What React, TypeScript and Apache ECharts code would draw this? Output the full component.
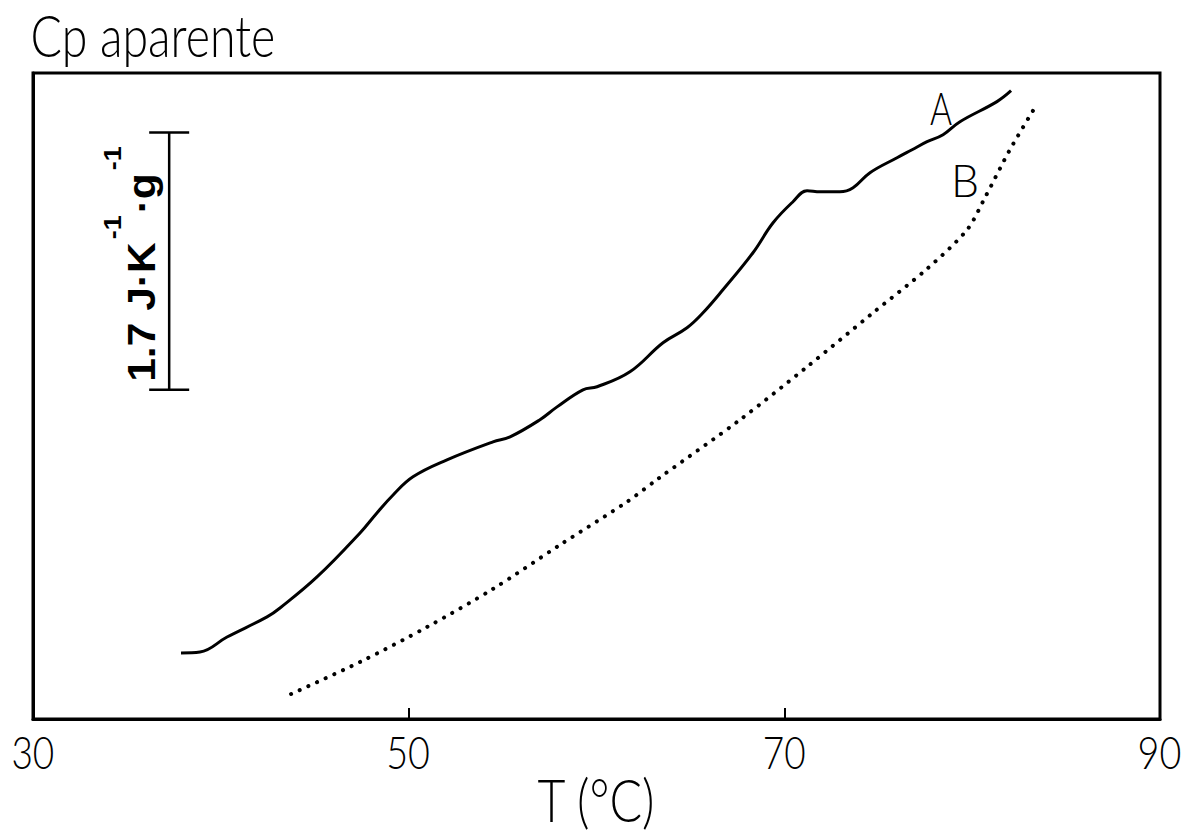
import React, { useEffect, useRef } from "react";
import * as echarts from "echarts";

// x-axis ticks (°C)
const X_TICKS = [30, 50, 70, 90];
const X_TITLE = "T (°C)";
const CHART_TITLE = "Cp aparente";

// Curve A (solid) — temperature (°C) and apparent Cp (J·K⁻¹·g⁻¹, arbitrary offset)
const T_A = [37.88, 38.89, 40.33, 42.46, 43.15, 45.12, 47.41, 48.31, 49.17, 50.23, 52.04, 54.49, 55.4, 56.99, 57.9, 59.28, 60.03, 61.78, 63.54, 64.82, 65.67, 66.73, 68.33, 69.4, 70.46, 71.21, 71.9, 72.96, 73.66, 74.56, 76.0, 76.8, 77.6, 78.45, 79.35, 81.32, 82.07];
const CP_A = [0.437, 0.443, 0.542, 0.675, 0.734, 0.939, 1.23, 1.362, 1.481, 1.601, 1.713, 1.832, 1.865, 1.978, 2.063, 2.176, 2.196, 2.295, 2.487, 2.586, 2.685, 2.837, 3.082, 3.28, 3.419, 3.492, 3.485, 3.485, 3.512, 3.611, 3.71, 3.763, 3.816, 3.862, 3.948, 4.081, 4.153];

// Curve B (dotted)
const T_B = [43.74, 47.41, 50.98, 54.49, 58.06, 61.62, 63.27, 67.64, 71.21, 74.72, 77.6, 79.73, 80.68, 82.01, 83.4];
const CP_B = [0.165, 0.377, 0.608, 0.86, 1.151, 1.435, 1.587, 1.978, 2.328, 2.685, 2.976, 3.234, 3.446, 3.763, 4.054];

// Scale bar: 1.7 J·K⁻¹·g⁻¹
const SCALE_T = 37.25;
const SCALE_BASE = 2.176;
const SCALE_SPAN = 1.7;
const SCALE_PARTS = ["1.7 J·K", "-1", "·g", "-1"];

const Y_MAX = 4.27;

const PLOT_FONT = "Lato";
const PLOT_WEIGHT = "300";
const SB_FONT = "'Liberation Sans', Arial, sans-serif";

let _ctx: CanvasRenderingContext2D | null = null;
function measure(text: string, size: number, family: string, weight: string) {
  if (!_ctx) _ctx = document.createElement("canvas").getContext("2d");
  const ctx = _ctx!;
  ctx.font = `${weight} ${size}px ${family}`;
  ctx.textAlign = "left";
  ctx.textBaseline = "alphabetic";
  return ctx.measureText(text);
}

function capRatio(family: string, weight: string) {
  return measure("H", 100, family, weight).actualBoundingBoxAscent / 100;
}

// Text whose ink box is placed from inkLeft to inkRight, cap top to baseline
function fitText(id: string, text: string, inkLeft: number, inkRight: number, capTop: number, baseline: number) {
  const size = (baseline - capTop) / capRatio(PLOT_FONT, PLOT_WEIGHT);
  const m = measure(text, size, PLOT_FONT, PLOT_WEIGHT);
  const inkW = m.actualBoundingBoxLeft + m.actualBoundingBoxRight;
  const sx = (inkRight - inkLeft) / inkW;
  const mid = (m.fontBoundingBoxAscent - m.fontBoundingBoxDescent) / 2;
  return {
    id,
    type: "text",
    x: inkLeft + m.actualBoundingBoxLeft * sx,
    y: baseline - mid,
    scaleX: sx,
    silent: true,
    style: {
      text,
      fontFamily: PLOT_FONT,
      fontWeight: PLOT_WEIGHT,
      fontSize: size,
      fill: "#000",
      align: "left",
      verticalAlign: "middle",
    },
  };
}

function scaleLabel(baseX: number, startY: number) {
  const sx = 1.12;
  const children: any[] = [];
  let pos = startY;
  SCALE_PARTS.forEach((t, i) => {
    const sup = i % 2 === 1;
    const size = sup ? 24 : 38;
    pos -= sup ? 3 : i === 0 ? 0 : 2;
    const m = measure(t, size, SB_FONT, "bold");
    const baseline = sup ? baseX - 34 : baseX;
    const mid = (m.fontBoundingBoxAscent - m.fontBoundingBoxDescent) / 2;
    children.push({
      type: "text",
      x: -pos,
      y: baseline - mid,
      scaleX: sx,
      style: {
        text: t,
        fontFamily: SB_FONT,
        fontWeight: "bold",
        fontSize: size,
        fill: "#000",
        align: "left",
        verticalAlign: "middle",
      },
    });
    pos -= m.width * sx;
  });
  return { type: "group", x: 0, y: 0, rotation: Math.PI / 2, children };
}

export default function App() {
  const ref = useRef<HTMLDivElement>(null);

  useEffect(() => {
    if (!ref.current) return;
    const chart = echarts.init(ref.current, null, { renderer: "svg" });
    const dataA = T_A.map((t, i) => [t, CP_A[i]]);
    const dataB = T_B.map((t, i) => [t, CP_B[i]]);

    chart.setOption({
      animation: false,
      backgroundColor: "#ffffff",
      grid: {
        left: 33,
        right: 29,
        top: 73,
        bottom: 117,
        show: true,
        borderColor: "#000",
        borderWidth: 3,
        containLabel: false,
      },
      xAxis: {
        type: "value",
        min: X_TICKS[0],
        max: X_TICKS[X_TICKS.length - 1],
        interval: X_TICKS[1] - X_TICKS[0],
        axisLine: { show: true, lineStyle: { color: "#000", width: 3 } },
        axisTick: { show: true, inside: true, length: 11, lineStyle: { color: "#000", width: 2 } },
        axisLabel: { show: false },
        splitLine: { show: false },
      },
      yAxis: {
        type: "value",
        min: 0,
        max: Y_MAX,
        axisLine: { show: true, lineStyle: { color: "#000", width: 3 } },
        axisTick: { show: false },
        axisLabel: { show: false },
        splitLine: { show: false },
      },
      series: [
        {
          name: "A",
          type: "line",
          data: dataA,
          showSymbol: false,
          symbol: "none",
          smooth: 0.4,
          lineStyle: { color: "#000", width: 3 },
        },
        {
          name: "B",
          type: "line",
          data: dataB,
          showSymbol: false,
          symbol: "none",
          smooth: 0.3,
          lineStyle: { color: "#000", width: 4, type: [0.1, 9.4], cap: "round" },
        },
        {
          name: "scale",
          type: "custom",
          data: [[SCALE_T, SCALE_BASE, SCALE_BASE + SCALE_SPAN]],
          encode: { x: 0, y: [1, 2] },
          renderItem: (params: any, api: any) => {
            const x = api.value(0);
            const p0 = api.coord([x, api.value(1)]);
            const p1 = api.coord([x, api.value(2)]);
            const half = 20;
            const st = { stroke: "#000", lineWidth: 2.5 };
            return {
              type: "group",
              children: [
                { type: "line", shape: { x1: p0[0], y1: p0[1], x2: p1[0], y2: p1[1] }, style: st },
                { type: "line", shape: { x1: p0[0] - half, y1: p0[1], x2: p0[0] + half, y2: p0[1] }, style: st },
                { type: "line", shape: { x1: p1[0] - half, y1: p1[1], x2: p1[0] + half, y2: p1[1] }, style: st },
                scaleLabel(p0[0] - 14, p0[1] - 8),
              ],
            };
          },
        },
      ],
    });

    // Text drawn in the plotter style, tick labels placed through the axis scale
    const graphics: any[] = [];
    graphics.push(fitText("title", CHART_TITLE, 33, 273, 16, 57));
    graphics.push(fitText("lblA", "A", 930, 952, 93, 125));
    graphics.push(fitText("lblB", "B", 955, 977, 165, 197));
    const xMid = ((chart.convertToPixel({ xAxisIndex: 0 }, X_TICKS[0]) as number) +
      (chart.convertToPixel({ xAxisIndex: 0 }, X_TICKS[X_TICKS.length - 1]) as number)) / 2;
    graphics.push(fitText("xname", X_TITLE, xMid - 59, xMid + 57, 780, 822));
    X_TICKS.forEach((v) => {
      const px = chart.convertToPixel({ xAxisIndex: 0 }, v) as number;
      graphics.push(fitText("tick" + v, String(v), px - 20, px + 20, 736, 769));
    });
    chart.setOption({ graphic: graphics });

    return () => chart.dispose();
  }, []);

  return (
    <div
      ref={ref}
      style={{ position: "absolute", left: 0, top: 0, width: 1189, height: 836, background: "#fff" }}
    />
  );
}
